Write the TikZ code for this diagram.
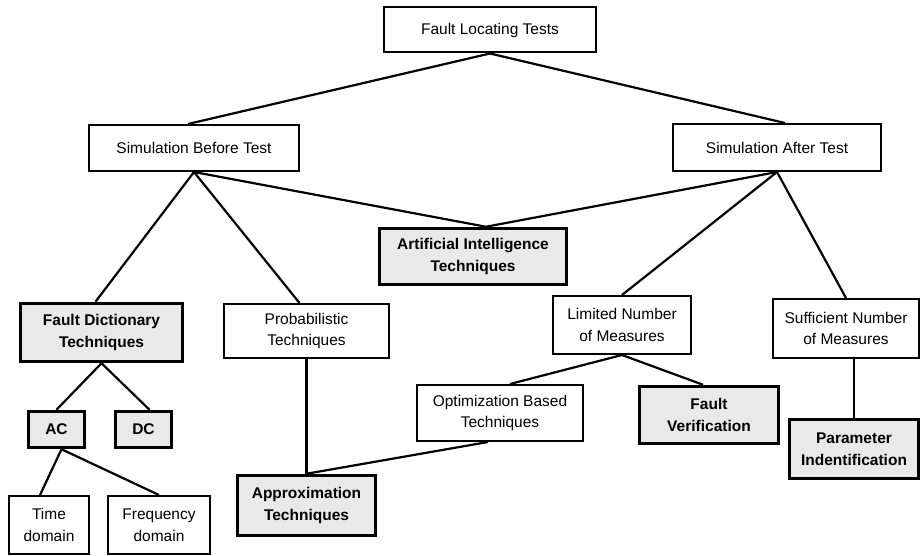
\documentclass[tikz,border=0pt]{standalone}
\usepackage{fontspec}
\setmainfont{Liberation Sans}

\tikzset{
  box/.style={draw=black, line width=2pt, fill=white, align=center, inner sep=2pt, font=\fontsize{15.5}{21.5}\selectfont},
  keybox/.style={box, line width=3.5pt, fill=gray!17, font=\fontsize{15.5}{21.5}\selectfont\bfseries},
  link/.style={line width=2.2pt}
}

\begin{document}
\begin{tikzpicture}[x=1pt, y=-1pt]
\useasboundingbox (0,0) rectangle (922,556);

\node[box, minimum width=212pt, minimum height=45pt] (flt) at (490,30) {Fault Locating Tests};

\node[box, minimum width=210pt, minimum height=46pt] (sbt) at (194,148) {Simulation Before Test};
\node[box, minimum width=208pt, minimum height=47pt] (sat) at (777,147.5) {Simulation After Test};

\node[keybox, minimum width=187pt, minimum height=56pt] (ai) at (473,256.5) {Artificial Intelligence\\Techniques};

\node[keybox, minimum width=162pt, minimum height=58pt] (fdt) at (101.5,332.5) {Fault Dictionary\\Techniques};
\node[box, minimum width=165pt, minimum height=54pt] (prob) at (306.5,331) {Probabilistic\\Techniques};
\node[box, minimum width=138pt, minimum height=58pt] (lim) at (622,325) {Limited Number\\of Measures};
\node[box, minimum width=146pt, minimum height=59pt] (suff) at (846,328.5) {Sufficient Number\\of Measures};

\node[keybox, minimum width=56pt, minimum height=36pt] (ac) at (56.5,429.5) {AC};
\node[keybox, minimum width=56pt, minimum height=36pt] (dc) at (143.5,429.5) {DC};
\node[box, minimum width=80pt, minimum height=58pt] (time) at (49,525) {Time\\domain};
\node[box, minimum width=102pt, minimum height=58pt] (freq) at (159,525) {Frequency\\domain};

\node[box, minimum width=166pt, minimum height=56pt] (opt) at (500,413) {Optimization Based\\Techniques};
\node[keybox, minimum width=139pt, minimum height=57pt] (fv) at (709,415) {Fault\\Verification};
\node[keybox, minimum width=129pt, minimum height=59pt] (param) at (854,449) {Parameter\\Indentification};
\node[keybox, minimum width=138pt, minimum height=60pt] (approx) at (306.5,505.5) {Approximation\\Techniques};

% top levels
\draw[link] (flt.south) -- ([xshift=-6pt]sbt.north);
\draw[link] (flt.south) -- ([xshift=8pt]sat.north);
\draw[link] (sbt.south) -- ([xshift=-6pt]fdt.north);
\draw[link] (sbt.south) -- ([xshift=-7pt]prob.north);
\draw[link] (sbt.south) -- ([xshift=13pt]ai.north);
\draw[link] (sat.south) -- ([xshift=13pt]ai.north);
\draw[link] (sat.south) -- (lim.north);
\draw[link] (sat.south) -- (suff.north);

% lower levels
\draw[link] (fdt.south) -- (ac.north);
\draw[link] (fdt.south) -- ([xshift=6pt]dc.north);
\draw[link] ([xshift=5pt]ac.south) -- ([xshift=-9pt]time.north);
\draw[link] ([xshift=5pt]ac.south) -- (freq.north);
\draw[link] (prob.south) -- (approx.north);
\draw[link] (lim.south) -- ([xshift=10pt]opt.north);
\draw[link] (lim.south) -- ([xshift=-6pt]fv.north);
\draw[link] ([xshift=-12pt]opt.south) -- (approx.north);
\draw[link] (suff.south -| param.north) -- (param.north);

\end{tikzpicture}
\end{document}
